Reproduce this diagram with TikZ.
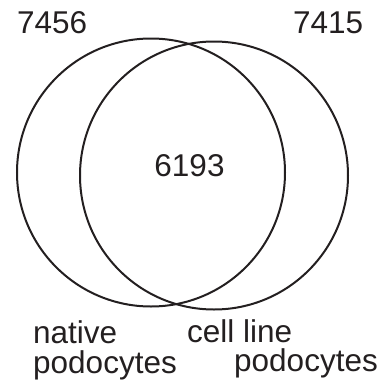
\documentclass[tikz,border=0pt]{standalone}
\usepackage{fontspec}
\setmainfont{Liberation Sans}
\usepackage{xcolor}
\definecolor{vennink}{HTML}{231F20}

\begin{document}
\begin{tikzpicture}[x=1pt, y=-1pt, font=\fontsize{31.5}{31.5}\selectfont, text=vennink]
  \useasboundingbox (0,0) rectangle (387,389);
  \node[draw=vennink, circle, line width=2pt, minimum size=268pt, inner sep=0pt] (native) at (151,172.5) {};
  \node[draw=vennink, circle, line width=2pt, minimum size=268pt, inner sep=0pt] (cellline) at (214,175.5) {};
  \node[anchor=base west, inner sep=0pt] (nnative) at (17,33) {7456};
  \node[anchor=base west, inner sep=0pt] (ncell) at (293,33) {7415};
  \node[anchor=base, inner sep=0pt] (nboth) at (189.5,176) {6193};
  \node[anchor=base west, inner sep=0pt] (lnative) at (33,343) {native};
  \node[anchor=base west, inner sep=0pt] (lnativepod) at (33,373) {podocytes};
  \node[anchor=base west, inner sep=0pt] (lcell) at (187,342) {cell line};
  \node[anchor=base west, inner sep=0pt] (lcellpod) at (234,371) {podocytes};
\end{tikzpicture}
\end{document}
